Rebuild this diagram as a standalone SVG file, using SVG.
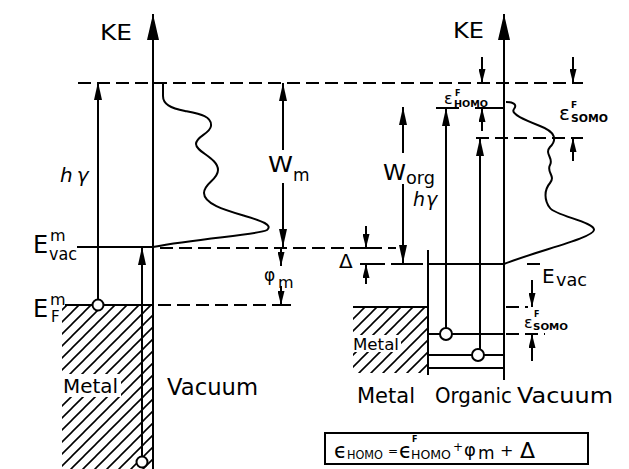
<svg xmlns="http://www.w3.org/2000/svg" width="629" height="469" viewBox="0 0 629 469">
<style>
.s{stroke:#000;stroke-width:2;fill:none}
.d{stroke:#000;stroke-width:2;fill:none;stroke-dasharray:13 6}
.t{font-family:"DejaVu Sans","Liberation Sans",sans-serif;fill:#000}
.i{font-style:italic}
.b{font-weight:bold}
.c{fill:#fff;stroke:#000;stroke-width:2}
</style>
<defs>
<marker id="ah" markerUnits="userSpaceOnUse" markerWidth="18" markerHeight="8" refX="18" refY="4" orient="auto"><path d="M0,0 L18,4 L0,8 z" fill="#000"/></marker>
<marker id="ahB" markerUnits="userSpaceOnUse" markerWidth="26" markerHeight="12" refX="26" refY="6" orient="auto"><path d="M0,0 L26,6 L0,12 z" fill="#000"/></marker>
<marker id="ahS" markerUnits="userSpaceOnUse" markerWidth="14" markerHeight="7" refX="14" refY="3.5" orient="auto"><path d="M0,0 L14,3.5 L0,7 z" fill="#000"/></marker>
<pattern id="hatch" patternUnits="userSpaceOnUse" width="12" height="12"><path d="M0,12 L12,0 M-3,3 L3,-3 M9,15 L15,9" stroke="#000" stroke-width="1.6"/></pattern>
</defs>
<rect width="629" height="469" fill="#fff"/>

<g id="left-metal">
<rect x="62" y="305" width="91" height="164" fill="url(#hatch)"/>
<rect x="61" y="374" width="60" height="23" fill="#fff"/>
<text class="t" x="63" y="393" font-size="19" textLength="55" lengthAdjust="spacingAndGlyphs">Metal</text>
<line class="s" x1="65" y1="305" x2="153" y2="305"/>
</g>

<g id="right-metal">
<rect x="353" y="307" width="75" height="66" fill="url(#hatch)"/>
<rect x="352" y="335" width="49" height="17" fill="#fff"/>
<text class="t" x="353" y="350" font-size="15" textLength="46" lengthAdjust="spacingAndGlyphs">Metal</text>
<line class="s" x1="353" y1="307" x2="428" y2="307"/>
</g>

<g id="connectors">
<line class="s" x1="153" y1="469" x2="153" y2="14" marker-end="url(#ahB)"/>
<line class="s" x1="504" y1="380" x2="504" y2="14" marker-end="url(#ahB)"/>
<line class="d" x1="78" y1="83" x2="583" y2="83"/>
<line class="d" x1="160" y1="248" x2="396" y2="248"/>
<line class="d" x1="158" y1="305" x2="290" y2="305"/>
<line class="d" x1="372" y1="264" x2="428" y2="264"/>
<line class="d" x1="476" y1="138" x2="583" y2="138"/>
<line class="d" x1="506" y1="307" x2="528" y2="307"/>
<line class="d" x1="506" y1="334" x2="545" y2="334"/>
<line class="s" x1="527" y1="264" x2="540" y2="264"/>
<line class="s" x1="77" y1="247" x2="153" y2="247"/>
<line class="s" x1="428" y1="264" x2="504" y2="264"/>
<line class="s" x1="428" y1="250" x2="428" y2="375"/>
<line class="s" x1="428" y1="334" x2="504" y2="334"/>
<line class="s" x1="428" y1="355" x2="504" y2="355"/>
<line class="s" x1="428" y1="368" x2="504" y2="368"/>
<line class="s" x1="98" y1="300" x2="98" y2="82" marker-end="url(#ah)"/>
<line class="s" x1="142" y1="456" x2="142" y2="247" marker-end="url(#ah)"/>
<line class="s" x1="283" y1="150" x2="283" y2="83" marker-end="url(#ah)"/>
<line class="s" x1="283" y1="183" x2="283" y2="247" marker-end="url(#ah)"/>
<line class="s" x1="281" y1="248" x2="281" y2="266" marker-end="url(#ahS)"/>
<line class="s" x1="281" y1="286" x2="281" y2="305" marker-end="url(#ahS)"/>
<line class="s" x1="272" y1="305" x2="291" y2="305"/>
<line class="s" x1="366" y1="226" x2="366" y2="248" marker-end="url(#ahS)"/>
<line class="s" x1="360" y1="248" x2="373" y2="248"/>
<line class="s" x1="366" y1="284" x2="366" y2="264" marker-end="url(#ahS)"/>
<line class="s" x1="360" y1="264" x2="373" y2="264"/>
<line class="s" x1="403" y1="153" x2="403" y2="107" marker-end="url(#ah)"/>
<line class="s" x1="403" y1="184" x2="403" y2="263" marker-end="url(#ah)"/>
<line class="s" x1="395" y1="264" x2="411" y2="264"/>
<line class="s" x1="446" y1="328" x2="446" y2="108" marker-end="url(#ah)"/>
<line class="s" x1="436" y1="108" x2="459" y2="108"/>
<line class="s" x1="480" y1="349" x2="480" y2="138" marker-end="url(#ah)"/>
<line class="s" x1="482" y1="57" x2="482" y2="83" marker-end="url(#ahS)"/>
<line class="s" x1="482" y1="131" x2="482" y2="108" marker-end="url(#ahS)"/>
<line class="s" x1="475" y1="108" x2="504" y2="108"/>
<line class="s" x1="573" y1="57" x2="573" y2="83" marker-end="url(#ahS)"/>
<line class="s" x1="573" y1="161" x2="573" y2="138" marker-end="url(#ahS)"/>
<line class="s" x1="532" y1="280" x2="532" y2="307" marker-end="url(#ahS)"/>
<line class="s" x1="532" y1="361" x2="532" y2="334" marker-end="url(#ahS)"/>
<path class="s" d="M163,82 L163,96 C163,104 170,108 185,111 C200,114 212,116 211,126 C210,134 196,136 196,144 C196,152 218,158 218,170 C218,180 204,183 204,193 C204,204 225,210 245,216 C262,221 273,225 267,230 C258,235 200,238 153,247"/>
<path class="s" d="M506,102 C512,102 518,104 514,109 C510,114 525,120 540,126 C556,132 557,140 550,147 C544,154 554,158 550,165 C546,172 556,176 550,183 C544,190 544,200 550,208 C556,216 595,222 594,230 C593,238 540,250 504,264"/>
</g>

<g id="electrons">
<circle class="c" cx="98" cy="305" r="5.5"/>
<circle class="c" cx="142" cy="462" r="5.5"/>
<circle class="c" cx="446" cy="334" r="6"/>
<circle class="c" cx="478" cy="355" r="6"/>
</g>

<g id="labels">
<text class="t" x="100" y="40" font-size="21" textLength="32" lengthAdjust="spacingAndGlyphs">KE</text>
<text class="t" x="453" y="38" font-size="21" textLength="31" lengthAdjust="spacingAndGlyphs">KE</text>
<text class="t i" x="60" y="182" font-size="20" letter-spacing="4">hγ</text>
<text class="t i" x="413" y="206" font-size="19" letter-spacing="1">hγ</text>
<text class="t" x="268" y="172" font-size="22" textLength="25" lengthAdjust="spacingAndGlyphs">W</text>
<text class="t" x="293" y="181" font-size="17">m</text>
<text class="t" x="383" y="180" font-size="22" textLength="23" lengthAdjust="spacingAndGlyphs">W</text>
<text class="t" x="406" y="184" font-size="17" textLength="29" lengthAdjust="spacingAndGlyphs">org</text>
<text class="t" x="33" y="253" font-size="24">E</text>
<text class="t" x="50" y="241" font-size="16">m</text>
<text class="t" x="49" y="260" font-size="17" textLength="28" lengthAdjust="spacingAndGlyphs">vac</text>
<text class="t" x="33" y="317" font-size="24">E</text>
<text class="t" x="50" y="305" font-size="16">m</text>
<text class="t" x="51" y="322" font-size="15">F</text>
<text class="t" x="264" y="281" font-size="17">φ</text>
<text class="t" x="278" y="288" font-size="16">m</text>
<text class="t" x="339" y="268" font-size="20">Δ</text>
<text class="t" x="542" y="283" font-size="20">E</text>
<text class="t" x="556" y="286" font-size="17" textLength="31" lengthAdjust="spacingAndGlyphs">vac</text>
<text class="t" x="167" y="395" font-size="23" textLength="91" lengthAdjust="spacingAndGlyphs">Vacuum</text>
<text class="t" x="357" y="403" font-size="21" textLength="58" lengthAdjust="spacingAndGlyphs">Metal</text>
<text class="t" x="435" y="403" font-size="21" textLength="77" lengthAdjust="spacingAndGlyphs">Organic</text>
<text class="t" x="517" y="403" font-size="21" textLength="96" lengthAdjust="spacingAndGlyphs">Vacuum</text>
<text class="t" x="444" y="104" font-size="16">ε</text>
<text class="t b" x="455" y="96" font-size="8">F</text>
<text class="t b" x="454" y="107" font-size="9" textLength="34" lengthAdjust="spacingAndGlyphs">HOMO</text>
<text class="t" x="559" y="120" font-size="20">ε</text>
<text class="t b" x="571" y="108" font-size="9">F</text>
<text class="t b" x="571" y="122" font-size="10" textLength="37" lengthAdjust="spacingAndGlyphs">SOMO</text>
<text class="t" x="524" y="328" font-size="16">ε</text>
<text class="t b" x="534" y="317" font-size="8">F</text>
<text class="t b" x="533" y="330" font-size="9" textLength="35" lengthAdjust="spacingAndGlyphs">SOMO</text>
</g>

<g id="equation">
<rect x="325" y="433" width="263" height="31" fill="none" stroke="#000" stroke-width="2"/>
<text class="t" x="334" y="458" font-size="21">ϵ</text>
<text class="t" x="347" y="459" font-size="13" textLength="36" lengthAdjust="spacingAndGlyphs">HOMO</text>
<text class="t" x="388" y="455" font-size="12">=</text>
<text class="t" x="399" y="458" font-size="21">ϵ</text>
<text class="t b" x="412" y="442" font-size="8">F</text>
<text class="t" x="411" y="459" font-size="13" textLength="40" lengthAdjust="spacingAndGlyphs">HOMO</text>
<text class="t" x="453" y="451" font-size="12">+</text>
<text class="t" x="464" y="456" font-size="18">φ</text>
<text class="t" x="478" y="459" font-size="17">m</text>
<text class="t" x="500" y="456" font-size="16">+</text>
<text class="t" x="520" y="458" font-size="22">Δ</text>
</g>
</svg>
